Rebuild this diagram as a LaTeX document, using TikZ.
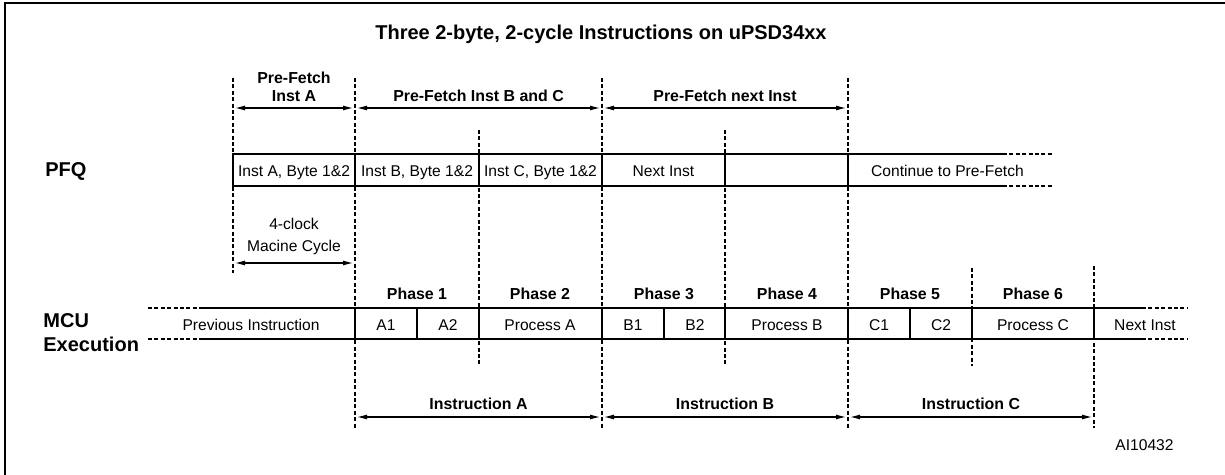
\documentclass[tikz,border=0pt]{standalone}
\usepackage{fontspec}
\setmainfont{Liberation Sans}
\usetikzlibrary{arrows.meta}
\tikzset{%
  title/.style    = {font=\fontsize{10}{12}\selectfont\bfseries, anchor=base, inner sep=0pt},%
  rowlabel/.style = {font=\fontsize{10}{12}\selectfont\bfseries, align=left, anchor=base west, inner sep=0pt},%
  head/.style     = {font=\fontsize{7.95}{9}\selectfont\bfseries, align=center, anchor=base, inner sep=0pt},%
  cell/.style     = {font=\fontsize{7.8}{11}\selectfont, align=center, anchor=base, inner sep=0pt},%
  rail/.style     = {line width=1.2pt},%
  guide/.style    = {line width=0.55pt, dash pattern=on 2pt off 1.2pt},%
  span/.style     = {{Latex[length=5pt,width=2.5pt]}-{Latex[length=5pt,width=2.5pt]},%
                     line width=0.55pt, shorten <=1pt, shorten >=1pt}%
}
\begin{document}
\begin{tikzpicture}[x=0.5pt,y=-0.5pt]
	\useasboundingbox (0,0) rectangle (1225,475);
	\draw[line width=1.2pt] (5,3) rectangle (1240,490);
	\node[title] (title) at (601,40) {Three 2-byte, 2-cycle Instructions on uPSD34xx};
	% dashed time marks
	\foreach \x/\a/\b in {233/78/273, 355/78/428, 479/130/366, 602/78/428,
		725/130/366, 848/78/428, 972/268/366, 1094/266/428}
		\draw[guide] (\x,\a) -- (\x,\b);
	% PFQ
	\node[rowlabel] (pfq) at (45,177) {PFQ};
	\draw[guide] (1003,154) -- (1052,154) (1003,186) -- (1052,186);
	\draw[rail] (1003,154) -- (233,154) -- (233,186) -- (1003,186);
	\foreach \x in {355,479,602,725,848}
		\draw[rail] (\x,154) -- (\x,186);
	\node[cell] (qa) at (294,177) {Inst A, Byte 1\&2};
	\node[cell] (qb) at (417,177) {Inst B, Byte 1\&2};
	\node[cell] (qc) at (540.5,177) {Inst C, Byte 1\&2};
	\node[cell] (qn) at (663.5,177) {Next Inst};
	\node[cell] (qcont) at (947.5,177) {Continue to Pre-Fetch};
	% pre-fetch spans
	\foreach \n/\x in {1/233,2/355,4/602,6/848}
		\coordinate (top\n) at (\x,108);
	\draw[span] (top1) -- (top2);
	\draw[span] (top2) -- (top4);
	\draw[span] (top4) -- (top6);
	\node[head] (pfa) at (294,102) {Pre-Fetch\\Inst A};
	\node[head] (pfbc) at (478.5,102) {Pre-Fetch Inst B and C};
	\node[head] (pfn) at (725,102) {Pre-Fetch next Inst};
	% machine cycle
	\coordinate (clk1) at (233,263);
	\coordinate (clk2) at (355,263);
	\draw[span] (clk1) -- (clk2);
	\node[cell] (clk) at (294,252) {4-clock\\Macine Cycle};
	% MCU execution
	\node[rowlabel] (mcu) at (43,351) {MCU\\Execution};
	\draw[guide] (148,308) -- (200,308) (148,339) -- (200,339);
	\draw[guide] (1142,308) -- (1187,308) (1142,339) -- (1187,339);
	\draw[rail] (200,308) -- (1142,308) (200,339) -- (1142,339);
	\foreach \x in {355,417,479,602,664,725,848,910,972,1094}
		\draw[rail] (\x,308) -- (\x,339);
	\foreach \n/\x in {1/417,2/540,3/664,4/787,5/910,6/1033}
		\node[head] (ph\n) at (\x,300) {Phase \n};
	\node[cell] (prev) at (251,331) {Previous Instruction};
	\node[cell] (a1) at (386,331) {A1};
	\node[cell] (a2) at (448,331) {A2};
	\node[cell] (pa) at (540,331) {Process A};
	\node[cell] (b1) at (633,331) {B1};
	\node[cell] (b2) at (695,331) {B2};
	\node[cell] (pb) at (787,331) {Process B};
	\node[cell] (c1) at (879,331) {C1};
	\node[cell] (c2) at (941,331) {C2};
	\node[cell] (pc) at (1033,331) {Process C};
	\node[cell] (nx) at (1145,331) {Next Inst};
	% instruction spans
	\foreach \n/\x in {2/355,4/602,6/848,8/1094}
		\coordinate (bot\n) at (\x,417);
	\draw[span] (bot2) -- (bot4);
	\draw[span] (bot4) -- (bot6);
	\draw[span] (bot6) -- (bot8);
	\node[head] (ia) at (478.5,409) {Instruction A};
	\node[head] (ib) at (725,409) {Instruction B};
	\node[head] (ic) at (971,409) {Instruction C};
	\node[cell] (ref) at (1144.5,450) {AI10432};
\end{tikzpicture}
\end{document}
